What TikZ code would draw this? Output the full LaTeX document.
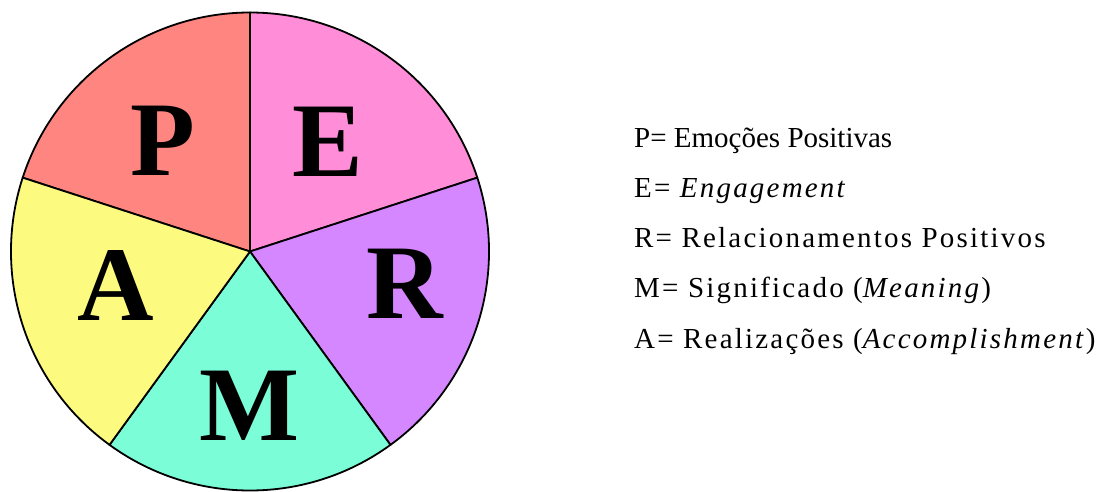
\documentclass[tikz,border=0pt]{standalone}
\usepackage{fontspec}
\setmainfont{Liberation Serif}
\newfontfamily\spacedfont[LetterSpace=7.6]{Liberation Serif}
\definecolor{pcol}{RGB}{255,134,128}
\definecolor{ecol}{RGB}{255,141,216}
\definecolor{rcol}{RGB}{213,135,255}
\definecolor{mcol}{RGB}{123,253,215}
\definecolor{acol}{RGB}{253,250,128}
\begin{document}
\begin{tikzpicture}[x=1pt,y=1pt,
  sector/.style={draw=black, line width=1.8pt, line join=round},
  bigletter/.style={anchor=base, inner sep=0pt, font=\fontsize{106}{106}\selectfont\bfseries},
  legend/.style={anchor=base west, inner sep=0pt, font=\fontsize{29}{29}\selectfont}]
\useasboundingbox (0,0) rectangle (1099,491);
\fill[white] (0,0) rectangle (1099,491);
\coordinate (O) at (250,239.5);
\filldraw[sector, fill=pcol] (O) -- ++(90:239pt) arc[start angle=90, end angle=162, radius=239pt] -- cycle;
\filldraw[sector, fill=ecol] (O) -- ++(18:239pt) arc[start angle=18, end angle=90, radius=239pt] -- cycle;
\filldraw[sector, fill=rcol] (O) -- ++(-54:239pt) arc[start angle=-54, end angle=18, radius=239pt] -- cycle;
\filldraw[sector, fill=mcol] (O) -- ++(-126:239pt) arc[start angle=-126, end angle=-54, radius=239pt] -- cycle;
\filldraw[sector, fill=acol] (O) -- ++(162:239pt) arc[start angle=162, end angle=234, radius=239pt] -- cycle;
\node[bigletter] (P) at (163,316) {P};
\node[bigletter] (E) at (327.5,315) {E};
\node[bigletter] (R) at (405,173) {R};
\node[bigletter] (A) at (115.5,171) {A};
\node[bigletter] (M) at (249.5,51) {M};
\node[legend] (l1) at (634,344) {P= Emoções Positivas};
\node[legend] (l2) at (634,293.5) {\spacedfont E= \itshape Engagement};
\node[legend] (l3) at (634,243.5) {\spacedfont R= Relacionamentos Positivos};
\node[legend] (l4) at (634,193.5) {\spacedfont M= Significado (\textit{Meaning})};
\node[legend] (l5) at (634,143) {\spacedfont A= Realizações (\textit{Accomplishment})};
\end{tikzpicture}
\end{document}
